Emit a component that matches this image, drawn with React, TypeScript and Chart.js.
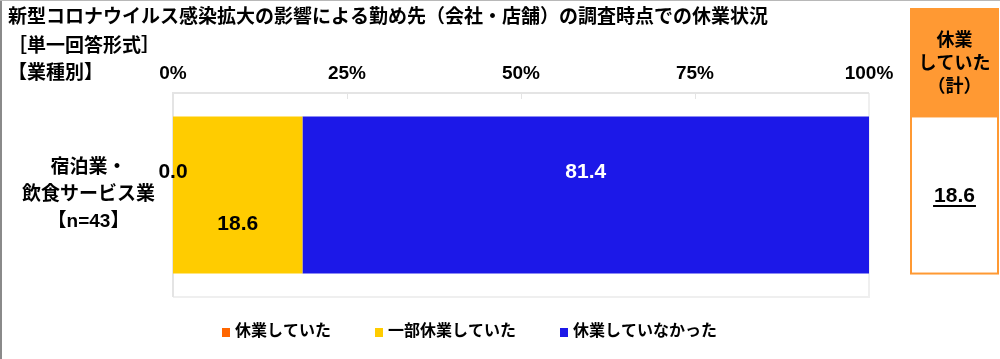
import React, { useEffect, useRef } from "react";
import { Chart, registerables } from "chart.js";
Chart.register(...registerables);

// ---------- data ----------
const titleLines = [
  "新型コロナウイルス感染拡大の影響による勤め先（会社・店舗）の調査時点での休業状況",
  "［単一回答形式］",
  "【業種別】",
];
const categories = [["宿泊業・", "飲食サービス業", "【n=43】"]];
const seriesNames = ["休業していた", "一部休業していた", "休業していなかった"];
const closedValues = [0.0];
const partlyClosedValues = [18.6];
const openValues = [81.4];
const totalHeader = ["休業", "していた", "（計）"];
const closedTotalValues = [18.6];
const xTickValues = [0, 25, 50, 75, 100];

// ---------- styles ----------
const FONT = "'Liberation Sans', 'Noto Sans CJK JP', sans-serif";
const seriesColors = ["#ff6600", "#ffcc00", "#1c18e8"];
const labelColors = ["#000000", "#000000", "#ffffff"];
const labelOffsets = [-23, 29, -23];
const headerColor = "#ff9933";
const frameColor = "#e4e4e4";
const frameColorLight = "#efefef";

const overlayPlugin = {
  id: "overlay",
  beforeDraw(chart: any) {
    const { ctx, width, height } = chart;
    ctx.save();
    ctx.fillStyle = "#ffffff";
    ctx.fillRect(0, 0, width, height);
    // frame
    ctx.fillStyle = "#8a8a8a";
    ctx.fillRect(0, 0, 2, height);
    ctx.fillStyle = "#b8b8b8";
    ctx.fillRect(0, 0, width, 1);
    // title
    ctx.fillStyle = "#000";
    ctx.textBaseline = "middle";
    ctx.textAlign = "left";
    ctx.font = `bold 19px ${FONT}`;
    ctx.fillText(titleLines[0], 8, 18);
    ctx.fillText(titleLines[1], 8, 47);
    ctx.fillText(titleLines[2], 8, 74);
    ctx.restore();
  },
  beforeDatasetsDraw(chart: any) {
    const { ctx, chartArea } = chart;
    const { left, right, top, bottom } = chartArea;
    ctx.save();
    // plot frame
    ctx.fillStyle = frameColorLight;
    ctx.fillRect(left, bottom - 1, right - left + 1, 2);
    ctx.fillRect(right - 1, top, 2, bottom - top);
    ctx.fillStyle = frameColor;
    ctx.fillRect(left - 1, top - 1, right - left + 1, 2);
    ctx.fillRect(left - 1, top - 1, 2, bottom - top + 1);
    // short inner ticks
    const xs = chart.scales.x;
    xTickValues.slice(1, -1).forEach((v) => {
      const px = Math.round(xs.getPixelForValue(v));
      ctx.fillRect(px, top, 1, 6);
    });
    ctx.restore();
  },
  afterDatasetsDraw(chart: any) {
    const { ctx } = chart;
    ctx.save();
    ctx.textAlign = "center";
    ctx.textBaseline = "middle";
    ctx.font = `bold 21px ${FONT}`;
    chart.data.datasets.forEach((ds: any, i: number) => {
      const meta = chart.getDatasetMeta(i);
      meta.data.forEach((el: any, j: number) => {
        const v = ds.data[j];
        const cx = (el.x + el.base) / 2;
        ctx.fillStyle = labelColors[i];
        ctx.fillText(v.toFixed(1), cx, el.y + labelOffsets[i]);
      });
    });

    // right-side total box
    const bar = chart.getDatasetMeta(2).data[0] as any;
    const top = bar.y - bar.height / 2;
    const bottom = bar.y + bar.height / 2;
    const bx = 910, bw = 89;
    ctx.fillStyle = headerColor;
    ctx.fillRect(bx, 8, bw, top - 8);
    ctx.strokeStyle = headerColor;
    ctx.lineWidth = 2;
    ctx.strokeRect(bx + 1, top, bw - 2, bottom - top);
    ctx.fillStyle = "#000";
    ctx.font = `bold 18px ${FONT}`;
    const hy = [41, 64, 87];
    totalHeader.forEach((t, k) => ctx.fillText(t, bx + bw / 2, hy[k]));
    ctx.font = `bold 21px ${FONT}`;
    closedTotalValues.forEach((v, j) => {
      const el = chart.getDatasetMeta(0).data[j] as any;
      const s = v.toFixed(1);
      const cx = bx + bw / 2;
      const cy = el.y + 1;
      ctx.fillText(s, cx, cy);
      const w = ctx.measureText(s).width;
      ctx.fillRect(cx - w / 2 - 1, cy + 9, w + 2, 2);
    });

    // legend
    ctx.textAlign = "left";
    ctx.font = `bold 16px ${FONT}`;
    let x = 222;
    const ly = 332;
    seriesNames.forEach((name, i) => {
      ctx.fillStyle = seriesColors[i];
      ctx.fillRect(x, ly - 4, 8, 9);
      ctx.fillStyle = "#000";
      ctx.fillText(name, x + 13, ly);
      x += 13 + ctx.measureText(name).width + 44;
    });
    ctx.restore();
  },
};

export default function App() {
  const ref = useRef<HTMLCanvasElement>(null);
  useEffect(() => {
    const canvas = ref.current!;
    const chart = new Chart(canvas, {
      type: "bar",
      data: {
        labels: categories as any,
        datasets: [closedValues, partlyClosedValues, openValues].map((d, i) => ({
          label: seriesNames[i],
          data: d,
          backgroundColor: seriesColors[i],
          borderWidth: 0,
          barPercentage: 0.77,
          categoryPercentage: 1,
        })),
      },
      options: {
        indexAxis: "y",
        animation: false,
        responsive: false,
        devicePixelRatio: 1,
        layout: { padding: { left: 0, right: 131, top: 0, bottom: 62 } },
        plugins: { legend: { display: false }, tooltip: { enabled: false }, title: { display: false } },
        scales: {
          x: {
            type: "linear",
            position: "top",
            stacked: true,
            min: 0,
            max: 100,
            afterBuildTicks: (s: any) => {
              s.ticks = xTickValues.map((v) => ({ value: v }));
            },
            afterFit: (s: any) => {
              s.height = 93;
            },
            ticks: {
              padding: 8,
              color: "#000",
              font: { family: FONT, size: 19, weight: "bold" },
              callback: (v: any) => `${v}%`,
            },
            grid: { display: false, drawTicks: false },
            border: { display: false },
          },
          y: {
            type: "category",
            stacked: true,
            afterFit: (s: any) => {
              s.width = 173;
            },
            ticks: {
              crossAlign: "center",
              padding: 18,
              color: "#000",
              font: { family: FONT, size: 19, weight: "bold", lineHeight: 27 / 19 },
            },
            grid: { display: false, drawTicks: false },
            border: { display: false },
          },
        },
      } as any,
      plugins: [overlayPlugin],
    });
    return () => chart.destroy();
  }, []);
  return (
    <div style={{ position: "absolute", left: 0, top: 0, width: 1000, height: 359 }}>
      <canvas ref={ref} width={1000} height={359} style={{ display: "block", width: 1000, height: 359 }} />
    </div>
  );
}
